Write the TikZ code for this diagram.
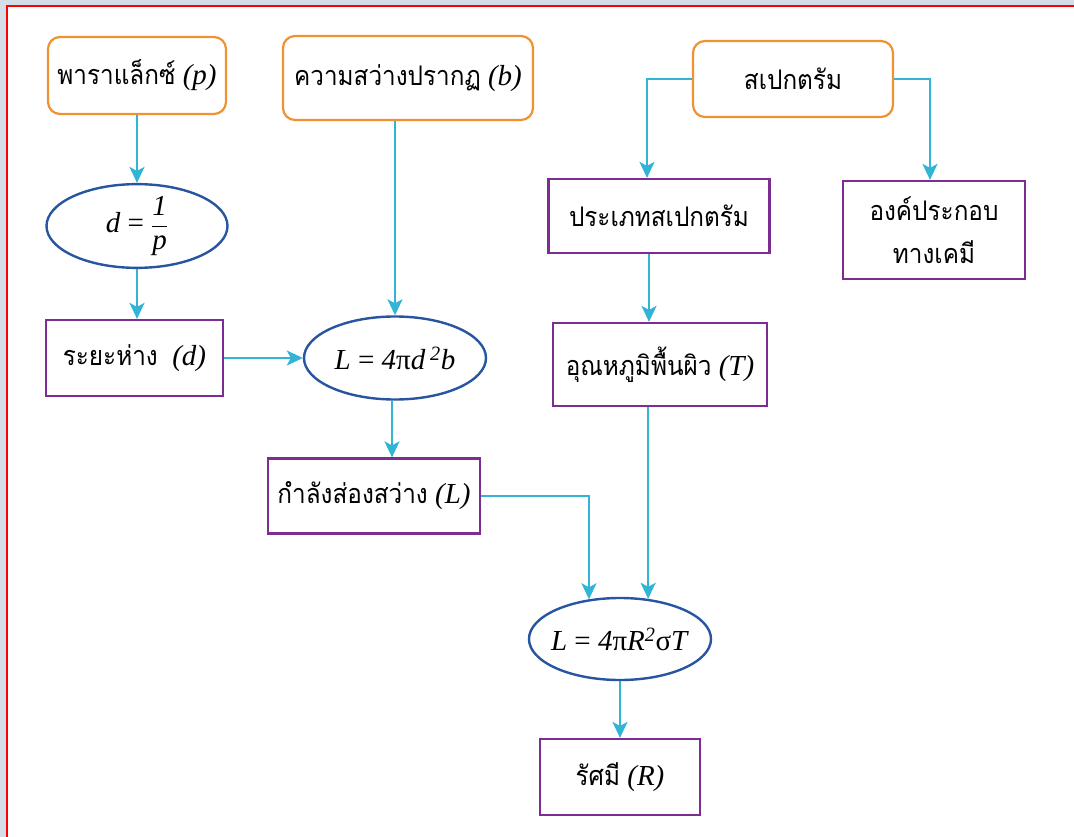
\documentclass[tikz,border=0pt]{standalone}
\usepackage{fontspec}
\setmainfont{Liberation Serif}
\newfontfamily\thaifont[Script=Thai]{Loma}
\usetikzlibrary{shapes.geometric,arrows.meta}
\definecolor{orangeb}{RGB}{240,145,50}
\definecolor{purpb}{RGB}{125,45,145}
\definecolor{blueb}{RGB}{40,85,160}
\definecolor{cyanl}{RGB}{50,180,215}
\definecolor{bgstrip}{RGB}{212,222,232}
\newcommand{\thtxt}[1]{\scalebox{0.9}[1]{\thaifont\fontsize{27}{36}\selectfont #1}}
\newcommand{\zw}[1]{\makebox[0pt]{#1}}
\tikzset{
  every node/.style={font=\fontsize{29}{34}\selectfont, inner sep=0pt},
  rbox/.style={rectangle, rounded corners=12pt, draw=orangeb, line width=2.2pt, fill=white},
  pbox/.style={rectangle, draw=purpb, line width=2.2pt, fill=white},
  ell/.style={ellipse, draw=blueb, line width=2.4pt, fill=white},
  conn/.style={draw=cyanl, line width=2.2pt, -{Stealth[length=16pt,width=15pt,inset=4pt]}},
}
\begin{document}
\begin{tikzpicture}[x=1pt,y=-1pt]
\useasboundingbox (0,0) rectangle (1074,837);
\fill[bgstrip] (0,0) rectangle (1074,837);
\fill[white] (7,7) rectangle (1074,837);
\draw[red, line width=2pt] (6.5,837) -- (6.5,6.5) -- (1074,6.5);

\node[rbox, minimum width=178pt, minimum height=77pt] (p) at (137,75.5) {\zw{\thtxt{พาราแล็กซ์} \textit{(p)}}};
\node[rbox, minimum width=250pt, minimum height=84pt] (b) at (408,78) {\zw{\thtxt{ความสว่างปรากฏ} \textit{(b)}}};
\node[rbox, minimum width=200pt, minimum height=76pt] (s) at (793,79) {\zw{\thtxt{สเปกตรัม}}};

\node[ell, minimum width=181pt, minimum height=68pt] (e1) at (137,226) {\zw{\textit{d} = $\displaystyle\frac{\textit{1}}{\textit{p}}$}};
\node[pbox, minimum width=177pt, minimum height=76pt] (dist) at (134.5,358) {\zw{\thtxt{ระยะห่าง}\enspace\textit{(d)}}};
\node[ell, minimum width=182pt, minimum height=83pt] (e2) at (395,358) {\zw{\textit{L} = \textit{4}π\textit{d}\,\textsuperscript{\textit{2}}\textit{b}}};

\node[pbox, minimum width=221pt, minimum height=74pt] (type) at (659,216) {\zw{\thtxt{ประเภทสเปกตรัม}}};
\node[pbox, minimum width=182pt, minimum height=98pt, align=center] (chem) at (934,230) {\thtxt{องค์ประกอบ}\\[9pt]\thtxt{ทางเคมี}};
\node[pbox, minimum width=214pt, minimum height=83pt] (temp) at (660,364.5) {\zw{\thtxt{อุณหภูมิพื้นผิว} \textit{(T)}}};

\node[pbox, minimum width=212pt, minimum height=75pt] (lum) at (374,496) {\zw{\thtxt{กำลังส่องสว่าง} \textit{(L)}}};
\node[ell, minimum width=182pt, minimum height=82pt] (e3) at (620,639) {\zw{\textit{L} = \textit{4}π\textit{R}\textsuperscript{\textit{2}}σ\textit{T}}};
\node[pbox, minimum width=160pt, minimum height=76pt] (rad) at (620,777) {\zw{\thtxt{รัศมี} \textit{(R)}}};

\draw[conn] (p.south) -- (p.south |- e1.north);
\draw[conn] (e1.south) -- (e1.south |- dist.north);
\draw[conn] (dist.east) -- (e2.west);
\draw[conn] (e2.north |- b.south) -- (e2.north);
\draw[conn] ([xshift=-3pt]e2.south) -- ([xshift=-3pt]e2.south |- lum.north);
\coordinate (sl) at ([xshift=-12pt]type.north);
\draw[conn] (s.west) -| (sl);
\draw[conn] (s.east) -| ([xshift=-4pt]chem.north);
\coordinate (tl) at ([xshift=-10pt]type.south);
\draw[conn] (tl) -- (tl |- temp.north);
\draw[conn] (e3.55 |- temp.south) -- (e3.55);
\draw[conn] (lum.east) -| (e3.128);
\draw[conn] (e3.south) -- (e3.south |- rad.north);
\end{tikzpicture}
\end{document}
